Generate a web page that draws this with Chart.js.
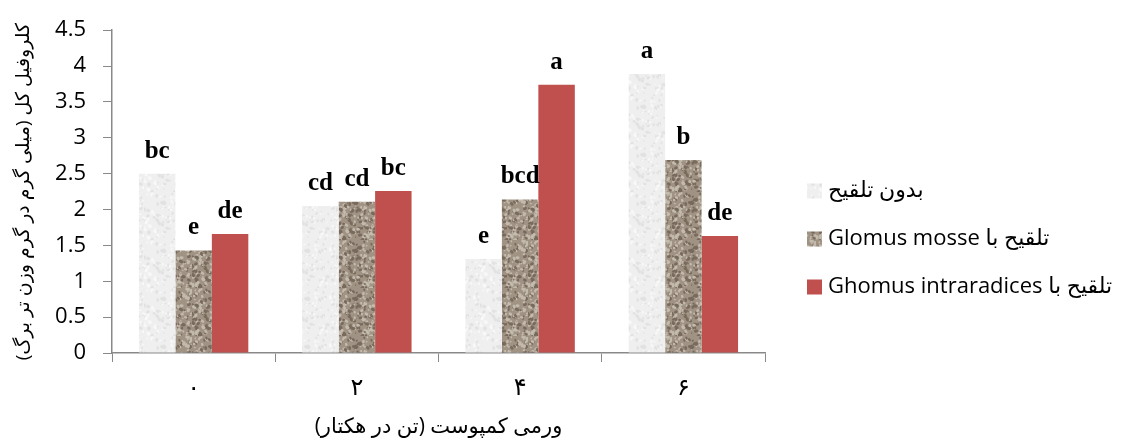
<!DOCTYPE html>
<html>
<head>
<meta charset="utf-8">
<script src="https://cdn.jsdelivr.net/npm/chart.js@4.4.0/dist/chart.umd.min.js"></script>
<style>
  html, body { margin: 0; padding: 0; background: #fff; }
  #wrap { width: 1125px; height: 444px; }
</style>
</head>
<body>
<div id="wrap"><canvas id="chlChart" width="1125" height="444"></canvas></div>
<script>
const categories = ["۰", "۲", "۴", "۶"];
const seriesNames = ["بدون تلقیح", "Glomus mosse تلقیح با", "Ghomus intraradices تلقیح با"];
const valuesNone = [2.50, 2.05, 1.31, 3.89];
const valuesMosse = [1.43, 2.11, 2.14, 2.69];
const valuesIntra = [1.66, 2.26, 3.74, 1.63];
const lettersNone = ["bc", "cd", "e", "a"];
const lettersMosse = ["e", "cd", "bcd", "b"];
const lettersIntra = ["de", "bc", "a", "de"];
const yTicks = [0, 0.5, 1, 1.5, 2, 2.5, 3, 3.5, 4, 4.5];
const yTitle = "کلروفیل کل (میلی گرم در گرم وزن تر برگ)";
const xTitle = "ورمی کمپوست (تن در هکتار)";

const AXIS_GRAY = "#898989";
const SANS = "'Open Sans', 'DejaVu Sans', sans-serif";

// speckled fill like the office texture fills
function hash(n) {
    const s = Math.sin(n * 12.9898 + 78.233) * 43758.5453;
    return s - Math.floor(s);
}

function makeTexture(base, dark, light, density) {
    const c = document.createElement("canvas");
    c.width = 48; c.height = 48;
    const g = c.getContext("2d");
    g.fillStyle = base;
    g.fillRect(0, 0, 48, 48);
    for (let i = 0; i < density; i++) {
        const x = hash(i * 3 + 1) * 48;
        const y = hash(i * 3 + 2) * 48;
        const r = 0.5 + hash(i * 3 + 3) * 1.2;
        g.fillStyle = hash(i * 7 + 5) > 0.5 ? dark : light;
        g.beginPath();
        g.ellipse(x, y, r * 1.4, r, hash(i) * 3, 0, Math.PI * 2);
        g.fill();
    }
    return g.createPattern(c, "repeat");
}

const ctx = document.getElementById("chlChart").getContext("2d");
const fillNone = makeTexture("#efefef", "#e2e2e2", "#f8f8f8", 120);
const fillMosse = makeTexture("#a09384", "#786a5d", "#c4bbaf", 240);
const fillIntra = "#c0504d";
const fills = [fillNone, fillMosse, fillIntra];
const letters = [lettersNone, lettersMosse, lettersIntra];

const letterPlugin = {
    id: "letters",
    afterDatasetsDraw(chart) {
        const c = chart.ctx;
        c.save();
        c.font = "bold 25px 'Liberation Serif', 'Times New Roman', serif";
        c.fillStyle = "#000";
        c.textAlign = "center";
        c.textBaseline = "alphabetic";
        chart.data.datasets.forEach((ds, di) => {
            chart.getDatasetMeta(di).data.forEach((bar, i) => {
                c.fillText(letters[di][i], bar.x, bar.y - 16);
            });
        });
        c.restore();
    }
};

const legendPlugin = {
    id: "sideLegend",
    afterDraw(chart) {
        const c = chart.ctx;
        c.save();
        c.font = "22px " + SANS;
        c.textBaseline = "middle";
        c.textAlign = "left";
        const rows = [191, 239, 287];
        seriesNames.forEach((name, i) => {
            c.fillStyle = fills[i];
            c.fillRect(807, rows[i] - 7.5, 15, 15);
            c.fillStyle = "#000";
            c.fillText(name, 828, rows[i]);
        });
        c.restore();
    }
};

new Chart(ctx, {
    type: "bar",
    data: {
        labels: categories,
        datasets: [
            { label: seriesNames[0], data: valuesNone, backgroundColor: fillNone },
            { label: seriesNames[1], data: valuesMosse, backgroundColor: fillMosse },
            { label: seriesNames[2], data: valuesIntra, backgroundColor: fillIntra }
        ]
    },
    options: {
        responsive: false,
        animation: false,
        layout: { padding: { top: 24, right: 360, left: 0, bottom: 0 } },
        datasets: { bar: { categoryPercentage: 0.67, barPercentage: 1.0 } },
        plugins: {
            legend: { display: false },
            tooltip: { enabled: false }
        },
        scales: {
            x: {
                afterFit(scale) { scale.height = 91; },
                grid: {
                    offset: true,
                    drawOnChartArea: false,
                    tickLength: 9,
                    color: AXIS_GRAY
                },
                border: { color: AXIS_GRAY, width: 1.5 },
                ticks: {
                    color: "#000",
                    padding: 12,
                    font: { family: SANS, size: 24 }
                },
                title: {
                    display: true,
                    text: xTitle,
                    color: "#000",
                    padding: { top: 0, bottom: 4 },
                    font: { family: SANS, size: 21 }
                }
            },
            y: {
                min: 0,
                max: yTicks[yTicks.length - 1],
                afterFit(scale) { scale.width = 112; },
                afterBuildTicks(scale) { scale.ticks = yTicks.map(v => ({ value: v })); },
                grid: {
                    drawOnChartArea: false,
                    tickLength: 9,
                    color: AXIS_GRAY
                },
                border: { color: AXIS_GRAY, width: 1.5 },
                ticks: {
                    color: "#000",
                    padding: 17,
                    font: { family: SANS, size: 22 },
                    callback: v => String(v)
                },
                title: {
                    display: true,
                    text: yTitle,
                    color: "#000",
                    padding: { top: 12, bottom: 0 },
                    font: { family: SANS, size: 19 }
                }
            }
        }
    },
    plugins: [letterPlugin, legendPlugin]
});
</script>
</body>
</html>
